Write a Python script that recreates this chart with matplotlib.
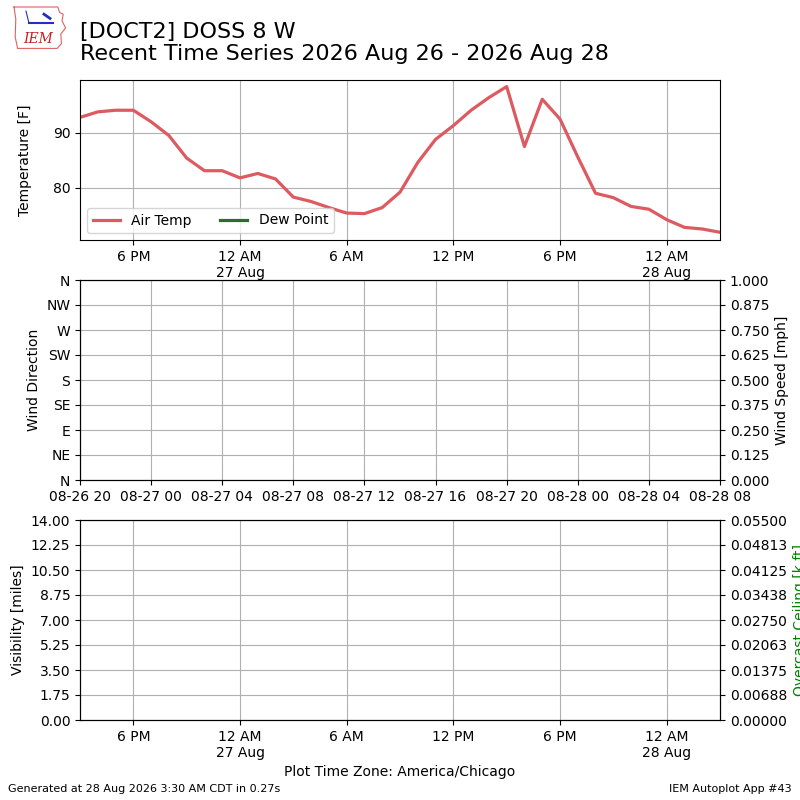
import datetime
import numpy as np
import matplotlib
matplotlib.use("Agg")
import matplotlib.pyplot as plt
import matplotlib.dates as mdates
from matplotlib.ticker import FixedLocator, FuncFormatter

# hourly obs, local time (America/Chicago)
start = datetime.datetime(2026, 8, 26, 15)
air_temp = [92.8, 93.8, 94.1, 94.1, 92.0, 89.5, 85.4, 83.1, 83.1, 81.8,
            82.6, 81.6, 78.3, 77.5, 76.4, 75.4, 75.3, 76.4, 79.2, 84.6,
            88.8, 91.3, 94.1, 96.4, 98.4, 87.5, 96.1, 92.5, 85.6, 79.0,
            78.2, 76.6, 76.1, 74.2, 72.8, 72.5, 71.9]
dew_point = []
times = [start + datetime.timedelta(hours=i) for i in range(len(air_temp))]
t0 = times[0]
t1 = times[-1]
utc_off = datetime.timedelta(hours=5)

dir_labels = ["N", "NE", "E", "SE", "S", "SW", "W", "NW", "N"]
dir_ticks = [0, 45, 90, 135, 180, 225, 270, 315, 360]
sknt_ticks = [0.0, 0.125, 0.25, 0.375, 0.5, 0.625, 0.75, 0.875, 1.0]
vis_ticks = [0.0, 1.75, 3.5, 5.25, 7.0, 8.75, 10.5, 12.25, 14.0]
ceil_ticks = [0.0, 0.006875, 0.01375, 0.020625, 0.0275, 0.034375,
              0.04125, 0.048125, 0.055]


def local_fmt(x, pos=None):
    dt = mdates.num2date(x).replace(tzinfo=None)
    lbl = dt.strftime("%-I %p")
    if dt.hour == 0:
        lbl += "\n" + dt.strftime("%-d %b")
    return lbl


def setup_local_x(ax):
    ax.set_xlim(t0, t1)
    ax.xaxis.set_major_locator(mdates.HourLocator(byhour=[0, 6, 12, 18]))
    ax.xaxis.set_major_formatter(FuncFormatter(local_fmt))
    ax.grid(True)


fig = plt.figure(figsize=(8, 8), dpi=100)

# --- temperature
ax1 = fig.add_axes([0.1, 0.7, 0.8, 0.2])
ax1.plot(times, air_temp, color="#dc5a60", lw=2.3, label="Air Temp")
ax1.plot(times[:len(dew_point)], dew_point, color="#2f6b30", lw=2.3,
         label="Dew Point")
setup_local_x(ax1)
ax1.set_ylim(70.5, 99.6)
ax1.set_yticks([80, 90])
ax1.set_ylabel("Temperature [F]", labelpad=15)
ax1.legend(loc="lower left", ncol=2)

# --- wind (axis in UTC)
ax2 = fig.add_axes([0.1, 0.4, 0.8, 0.25])
ax2.set_xlim(t0 + utc_off, t1 + utc_off)
ax2.xaxis.set_major_locator(mdates.HourLocator(interval=4))
ax2.xaxis.set_major_formatter(mdates.DateFormatter("%m-%d %H"))
ax2.set_ylim(0, 360)
ax2.yaxis.set_major_locator(FixedLocator(dir_ticks))
ax2.set_yticklabels(dir_labels)
ax2.set_ylabel("Wind Direction")
ax2.grid(True)
ax2b = ax2.twinx()
ax2b.set_ylim(0, 1)
ax2b.set_yticks(sknt_ticks)
ax2b.yaxis.set_major_formatter(FuncFormatter(lambda v, p: "%.3f" % v))
ax2b.set_ylabel("Wind Speed [mph]")

# --- visibility / ceiling
ax3 = fig.add_axes([0.1, 0.1, 0.8, 0.25])
setup_local_x(ax3)
ax3.set_ylim(0, 14)
ax3.set_yticks(vis_ticks)
ax3.yaxis.set_major_formatter(FuncFormatter(lambda v, p: "%.2f" % v))
ax3.set_ylabel("Visibility [miles]")
ax3.set_xlabel("Plot Time Zone: America/Chicago")
ax3b = ax3.twinx()
ax3b.set_ylim(0, 0.055)
ax3b.set_yticks(ceil_ticks)
ax3b.yaxis.set_major_formatter(FuncFormatter(lambda v, p: "%.5f" % v))
ax3b.set_ylabel("Overcast Ceiling [k ft]", color="g")

# --- titles and footer
fig.text(0.1, 0.948, "[DOCT2] DOSS 8 W", fontsize=16, va="bottom")
fig.text(0.1, 0.945, "Recent Time Series 2026 Aug 26 - 2026 Aug 28",
         fontsize=16, va="top")
fig.text(0.01, 0.01, "Generated at 28 Aug 2026 3:30 AM CDT in 0.27s",
         fontsize=8)
fig.text(0.99, 0.01, "IEM Autoplot App #43", fontsize=8, ha="right")

# rough IEM logo
lg = fig.add_axes([0.01, 0.935, 0.075, 0.06])
lg.set_xlim(0, 10)
lg.set_ylim(0, 8)
lg.axis("off")
ox = [1, 8.3, 8.6, 9.2, 9.0, 9.6, 8.8, 8.9, 8.2, 1.6, 1.2, 1.3, 1]
oy = [7.5, 7.5, 6.6, 6.3, 5.2, 4.0, 3.0, 1.4, 0.6, 0.6, 2.5, 5.5, 7.5]
lg.plot(ox, oy, color="#e06060", lw=0.8)
lg.plot([3.5, 7.5], [4.8, 4.8], color="#2030c0", lw=1.5)
lg.plot([3.5, 3.0], [4.8, 6.8], color="#2030c0", lw=0.8)
lg.plot([6.0, 7.0], [6.3, 5.6], color="#2030c0", lw=2)
lg.text(5, 1.5, "IEM", color="#c02020", fontsize=10, ha="center",
        family="DejaVu Serif", style="italic")

fig.savefig("out.png", dpi=100)
